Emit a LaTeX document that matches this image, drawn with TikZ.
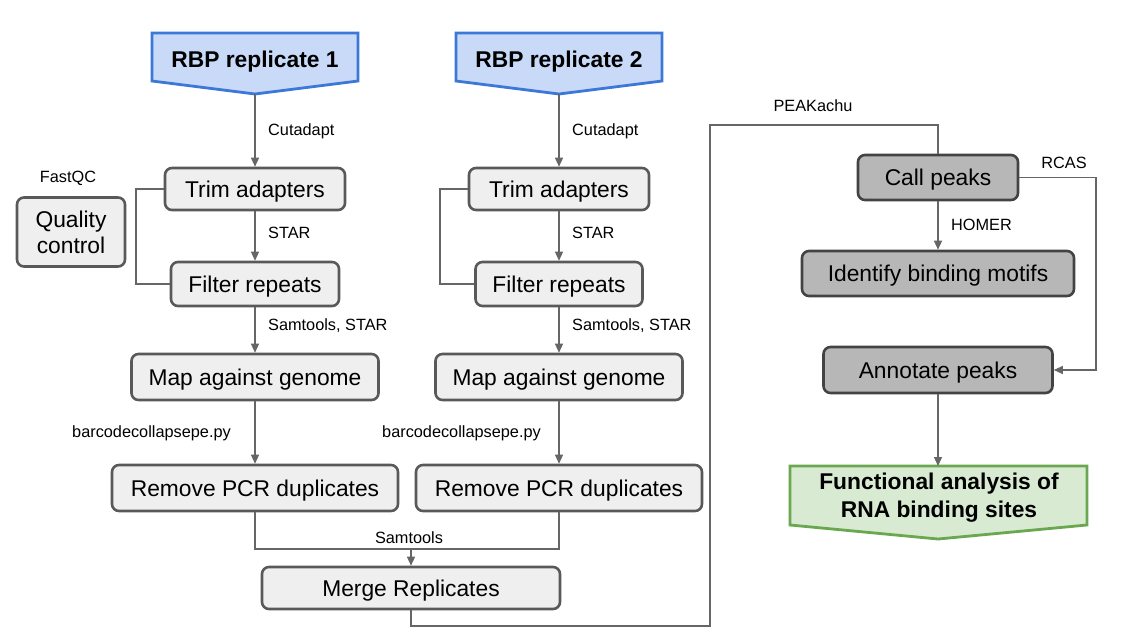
\documentclass[tikz,border=0pt]{standalone}
\usepackage{fontspec}
\setmainfont{Liberation Sans}
\usetikzlibrary{arrows.meta}
\definecolor{boxfill}{HTML}{EFEFEF}
\definecolor{boxline}{HTML}{595959}
\definecolor{darkfill}{HTML}{B7B7B7}
\definecolor{darkline}{HTML}{434343}
\definecolor{bluefill}{HTML}{C9DAF8}
\definecolor{blueline}{HTML}{3C78D8}
\definecolor{greenfill}{HTML}{D9EAD3}
\definecolor{greenline}{HTML}{6AA84F}
\definecolor{conn}{HTML}{666666}
\begin{document}
\begin{tikzpicture}[x=1pt,y=-1pt,
  box/.style={draw=boxline, fill=boxfill, line width=2.6pt, rounded corners=7pt, inner sep=0pt, font=\fontsize{22.8}{26}\selectfont, align=center},
  one/.style={text height=16.4pt, text depth=0pt},
  darkbox/.style={box, draw=darkline, fill=darkfill},
  bigtext/.style={inner sep=0pt, font=\fontsize{22.8}{28}\selectfont\bfseries, align=center},
  lbl/.style={inner sep=0pt, font=\fontsize{16.3}{19}\selectfont},
  link/.style={draw=conn, line width=1.2pt},
  arr/.style={link, -{Triangle[length=9pt,width=8pt]}}
]
\useasboundingbox (0,0) rectangle (1124,638);
\fill[white] (0,0) rectangle (1124,638);

% start shapes
\filldraw[fill=bluefill, draw=blueline, line width=2.8pt, line join=miter]
  (152,33) -- (358,33) -- (358,81) -- (255,94) -- (152,81) -- cycle;
\filldraw[fill=bluefill, draw=blueline, line width=2.8pt, line join=miter]
  (456,33) -- (662,33) -- (662,81) -- (559,94) -- (456,81) -- cycle;
\node[bigtext, one] (r1) at (255,59) {RBP replicate 1};
\node[bigtext, one] (r2) at (559,59) {RBP replicate 2};
\coordinate (r1tip) at (255,94);
\coordinate (r2tip) at (559,94);

% column 1
\node[box, one, minimum width=180pt, minimum height=42pt] (t1) at (255,189) {Trim adapters};
\node[box, one, minimum width=168pt, minimum height=44pt] (f1) at (255,284) {Filter repeats};
\node[box, one, minimum width=247pt, minimum height=46pt] (m1) at (255,377) {Map against genome};
\node[box, one, minimum width=286pt, minimum height=46pt] (p1) at (255,488) {Remove PCR duplicates};
\node[box, minimum width=108pt, minimum height=69pt] (q) at (71,232) {Quality\\control};

% column 2
\node[box, one, minimum width=180pt, minimum height=42pt] (t2) at (559,189) {Trim adapters};
\node[box, one, minimum width=167pt, minimum height=44pt] (f2) at (559,284) {Filter repeats};
\node[box, one, minimum width=247pt, minimum height=46pt] (m2) at (559,377) {Map against genome};
\node[box, one, minimum width=286pt, minimum height=46pt] (p2) at (559,488) {Remove PCR duplicates};

\node[box, one, minimum width=298pt, minimum height=42pt] (mg) at (411,588) {Merge Replicates};

% right part
\node[darkbox, one, minimum width=160pt, minimum height=45pt] (cp) at (938,177.5) {Call peaks};
\node[darkbox, one, minimum width=272pt, minimum height=45pt] (im) at (938,273.5) {Identify binding motifs};
\node[darkbox, one, minimum width=229pt, minimum height=46pt] (ap) at (938,370) {Annotate peaks};

\filldraw[fill=greenfill, draw=greenline, line width=2.8pt, line join=miter]
  (790,466) -- (1087,466) -- (1087,525) -- (938,539) -- (790,525) -- cycle;
\node[bigtext] (fa) at (939,498) {Functional analysis of\\RNA binding sites};
\coordinate (fatop) at (938,466);

% connectors column 1
\draw[arr] (r1tip) -- (t1.north);
\draw[arr] (t1.south) -- (f1.north);
\draw[arr] (f1.south) -- (m1.north);
\draw[arr] (m1.south) -- (p1.north);
\coordinate (l1) at (136,189);
\coordinate (l2) at (136,284);
\draw[link] (t1.west) -- (l1) -- (l2) -- (f1.west);

% connectors column 2
\draw[arr] (r2tip) -- (t2.north);
\draw[arr] (t2.south) -- (f2.north);
\draw[arr] (f2.south) -- (m2.north);
\draw[arr] (m2.south) -- (p2.north);
\coordinate (l3) at (440,189);
\coordinate (l4) at (440,284);
\draw[link] (t2.west) -- (l3) -- (l4) -- (f2.west);

% merge
\coordinate (j1) at (255,549);
\coordinate (j2) at (559,549);
\coordinate (j) at (411,549);
\draw[link] (p1.south) -- (j1) -- (j2) -- (p2.south);
\draw[arr] (j) -- (mg.north);

% merge to call peaks
\coordinate (d1) at (411,626);
\coordinate (d2) at (710,626);
\coordinate (d3) at (710,125);
\coordinate (d4) at (938,125);
\draw[link] (mg.south) -- (d1) -- (d2) -- (d3) -- (d4) -- (cp.north);

% right connectors
\draw[arr] (cp.south) -- (im.north);
\coordinate (e1) at (1096,177.5);
\coordinate (e2) at (1096,370);
\draw[arr] (cp.east) -- (e1) -- (e2) -- (ap.east);
\draw[arr] (ap.south) -- (fatop);

% labels
\node[lbl, anchor=west] (lb1) at (268,131) {Cutadapt};
\node[lbl, anchor=west] (lb2) at (572,131) {Cutadapt};
\node[lbl, anchor=west] (lb3) at (268,233) {STAR};
\node[lbl, anchor=west] (lb4) at (572,233) {STAR};
\node[lbl, anchor=west] (lb5) at (268,326) {Samtools, STAR};
\node[lbl, anchor=west] (lb6) at (572,326) {Samtools, STAR};
\node[lbl, anchor=west] (lb7) at (72,433) {barcodecollapsepe.py};
\node[lbl, anchor=west] (lb8) at (382,433) {barcodecollapsepe.py};
\node[lbl] (lb9) at (68,178) {FastQC};
\node[lbl] (lb10) at (409,538) {Samtools};
\node[lbl] (lb11) at (813,106) {PEAKachu};
\node[lbl] (lb12) at (1064,163) {RCAS};
\node[lbl, anchor=west] (lb13) at (951,225) {HOMER};
\end{tikzpicture}
\end{document}
